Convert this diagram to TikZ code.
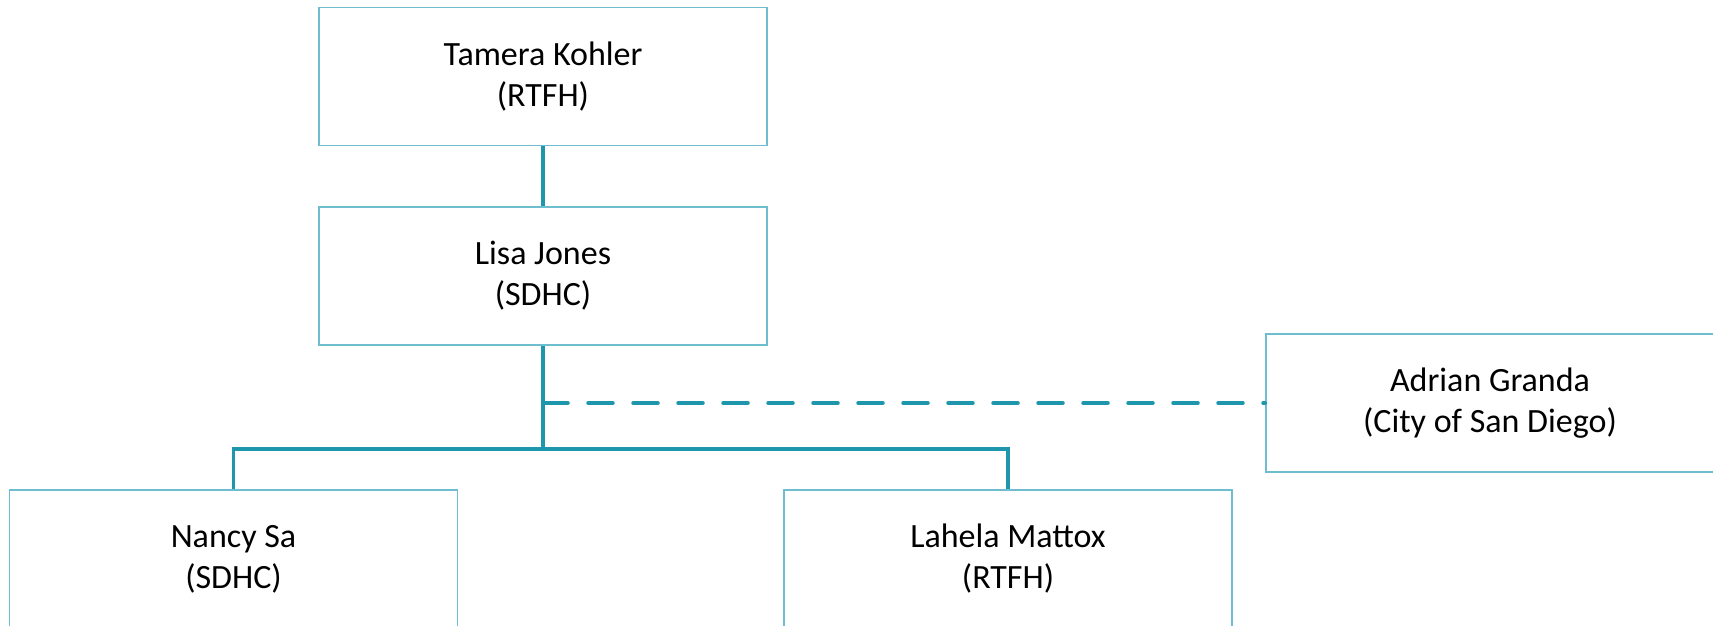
\documentclass[tikz,border=0pt]{standalone}
\usepackage{fontspec}
\setmainfont{Carlito}
\definecolor{boxline}{RGB}{110,190,208}
\definecolor{linkline}{RGB}{30,150,172}
\begin{document}
\begin{tikzpicture}[x=1pt,y=-1pt,
  person/.style={draw=boxline, line width=1.5pt, fill=white, minimum width=448pt, minimum height=138pt,
    inner sep=0pt, align=center, font=\fontsize{34}{41}\selectfont, text=black},
  link/.style={draw=linkline, line width=3.5pt},
  dotlink/.style={draw=linkline, line width=3.5pt, line cap=round, dash pattern=on 25pt off 20pt}]
\useasboundingbox (0,0) rectangle (1713,626);
\clip (0,0) rectangle (1713,626);
\node[person] (tk) at (543,76.5) {Tamera Kohler\\(RTFH)};
\node[person] (lj) at (543,276) {Lisa Jones\\(SDHC)};
\node[person] (ag) at (1490,403) {Adrian Granda\\(City of San Diego)};
\node[person] (ns) at (233.5,559) {Nancy Sa\\(SDHC)};
\node[person] (lm) at (1008,559) {Lahela Mattox\\(RTFH)};
\coordinate (bar) at (543,449);
\coordinate (tap) at (543,403);
\draw[link] (tk.south) -- (lj.north);
\draw[link] (lj.south) -- (bar);
\draw[link] (ns.north) -- (ns.north |- bar) -- (lm.north |- bar) -- (lm.north);
\draw[dotlink] (tap) -- (ag.west);
\end{tikzpicture}
\end{document}
